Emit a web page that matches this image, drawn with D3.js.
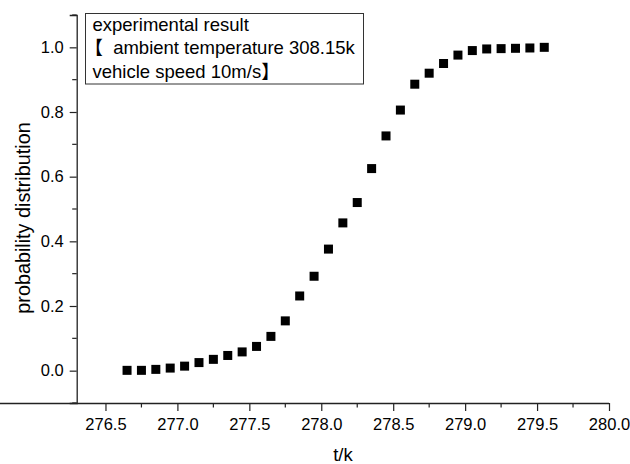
<!DOCTYPE html>
<html><head><meta charset="utf-8">
<script src="https://cdn.jsdelivr.net/npm/d3@7"></script>
<style>
body{margin:0;background:#fff;}
text{font-family:Arial,"Liberation Sans","Noto Sans CJK SC",sans-serif;fill:#000;white-space:pre;}
</style></head>
<body><svg id="c" width="630" height="464"></svg>
<script>
const temps = [276.65,276.75,276.85,276.95,277.05,277.15,277.25,277.35,277.45,277.55,
               277.65,277.75,277.85,277.95,278.05,278.15,278.25,278.35,278.45,278.55,
               278.65,278.75,278.85,278.95,279.05,279.15,279.25,279.35,279.45,279.55];
const probs = [0.001,0.001,0.004,0.008,0.014,0.025,0.035,0.047,0.058,0.075,
               0.106,0.154,0.231,0.292,0.376,0.457,0.520,0.625,0.726,0.806,
               0.886,0.920,0.950,0.976,0.990,0.995,0.996,0.997,0.998,1.000];
const xTicks = [276.5,277.0,277.5,278.0,278.5,279.0,279.5,280.0];
const yTicks = [0.0,0.2,0.4,0.6,0.8,1.0];
const legendLines = ["experimental result","【 ambient temperature 308.15k","vehicle speed 10m/s】"];

const svg = d3.select("#c");
const x = d3.scaleLinear().domain([276.3,280.0]).range([76.7,609]);
const y = d3.scaleLinear().domain([-0.1,1.1]).range([403,15]);

const xMinor = d3.range(276.75,280.0,0.5);
const yMinor = d3.range(-0.1,1.15,0.2);

const ax = svg.append("g");
ax.selectAll(".xm").data(xMinor).join("line")
  .attr("x1",d=>x(d)).attr("x2",d=>x(d)).attr("y1",403).attr("y2",407.5)
  .attr("stroke","#222").attr("stroke-width",1.2);
ax.selectAll(".ym").data(yMinor).join("line")
  .attr("y1",d=>y(d)).attr("y2",d=>y(d)).attr("x1",76.7).attr("x2",72.2)
  .attr("stroke","#222").attr("stroke-width",1.2);

const xAxis = d3.axisBottom(x).tickValues(xTicks).tickFormat(d3.format(".1f")).tickSizeOuter(0).tickSize(8).tickPadding(7);
const gx = svg.append("g").attr("transform","translate(0,403)").call(xAxis);
const yAxis = d3.axisLeft(y).tickValues(yTicks).tickFormat(d3.format(".1f")).tickSizeOuter(0).tickSize(7).tickPadding(6);
const gy = svg.append("g").attr("transform","translate(76.7,0)").call(yAxis);
[gx,gy].forEach(g=>{
  g.select(".domain").attr("stroke","#222").attr("stroke-width",1.3);
  g.selectAll(".tick line").attr("stroke","#222").attr("stroke-width",1.2);
  g.selectAll(".tick text").attr("font-size",16.5).attr("font-family","Arial,'Liberation Sans',sans-serif").attr("fill","#000");
});
gx.select(".domain").attr("d","M-3,0.5H609");

svg.append("text").attr("x",343).attr("y",461).attr("text-anchor","middle").attr("font-size",18.5).text("t/k");
svg.append("text").attr("transform","translate(30,218) rotate(-90)").attr("text-anchor","middle").attr("font-size",19.8).text("probability distribution");

svg.append("g").selectAll("rect").data(temps.map((t,i)=>[t,probs[i]])).join("rect")
  .attr("x",d=>x(d[0])-4.5).attr("y",d=>y(d[1])-4.5).attr("width",9).attr("height",9).attr("fill","#000");

svg.append("rect").attr("x",85.5).attr("y",13.5).attr("width",278).attr("height",70.5)
  .attr("fill","#fff").attr("stroke","#333").attr("stroke-width",1);
const lg = svg.append("g");
legendLines.forEach((line,i)=>{
  const t = lg.append("text").attr("x",92.5).attr("y",31+i*23.3).attr("font-size",18.5);
  if (line.startsWith("【")) {
    t.append("tspan").attr("dx",-8).text("【");
    t.append("tspan").attr("dx",5).text(line.slice(1));
  } else {
    t.text(line);
  }
});
</script></body></html>
